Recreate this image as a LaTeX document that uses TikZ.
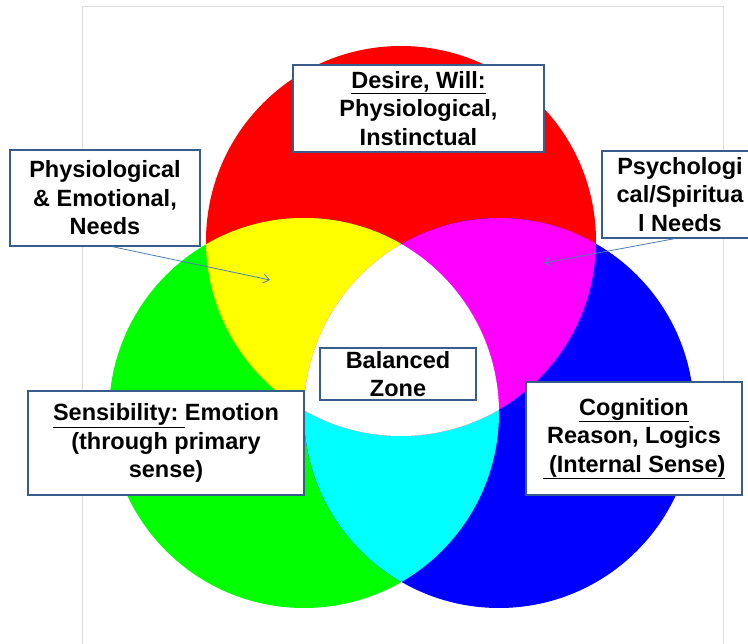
\documentclass[tikz,border=0pt]{standalone}
\usepackage{fontspec}
\setmainfont{Liberation Sans}
\usetikzlibrary{arrows.meta}
\definecolor{boxline}{HTML}{385D8A}
\definecolor{pointerblue}{HTML}{4A7EBB}
\definecolor{framegray}{HTML}{DDDDDD}
\definecolor{lightred}{RGB}{255,0,0}
\definecolor{lightgreen}{RGB}{0,255,0}
\definecolor{lightblue}{RGB}{0,0,255}
\definecolor{lightyellow}{RGB}{255,255,0}
\definecolor{lightmagenta}{RGB}{255,0,255}
\definecolor{lightcyan}{RGB}{0,255,255}
\begin{document}
\begin{tikzpicture}
  [x=1pt,y=-1pt,
   notebox/.style={draw=boxline,line width=1.2pt,fill=white,align=center,inner sep=0pt,
     font=\fontsize{23.5}{28.5}\selectfont\bfseries},
   pointer/.style={draw=pointerblue,line width=0.8pt,-{Straight Barb[length=6pt,width=9pt]}}]
  \useasboundingbox (0,0) rectangle (748,644);
  \draw[framegray,line width=1pt] (82,660) -- (82,7) -- (723,7) -- (723,660);
  \coordinate (r) at (401,241);
  \coordinate (g) at (304,413);
  \coordinate (b) at (499,413);
  \foreach \c/\p in {lightred/r, lightgreen/g, lightblue/b}
    \fill[\c] (\p) circle (195pt);
  \begin{scope}
    \clip (g) circle (195pt);
    \fill[lightcyan] (b) circle (195pt);
  \end{scope}
  \begin{scope}
    \clip (r) circle (195pt);
    \fill[lightyellow] (g) circle (195pt);
    \fill[lightmagenta] (b) circle (195pt);
    \clip (g) circle (195pt);
    \fill[white] (b) circle (195pt);
  \end{scope}
  \node[notebox,minimum width=251pt,minimum height=87pt] (desire) at (418.5,108.5)
    {\underline{Desire, Will:}\\Physiological,\\Instinctual};
  \node[notebox,minimum width=190pt,minimum height=96pt] (phys) at (105,198)
    {Physiological\\\& Emotional,\\Needs};
  \node[notebox,minimum width=156pt,minimum height=87pt] (psych) at (680,194.5)
    {Psychologi\\cal/Spiritua\\l Needs};
  \node[notebox,minimum width=156pt,minimum height=52pt] (zone) at (398,374)
    {Balanced\\Zone};
  \node[notebox,minimum width=276pt,minimum height=104pt] (sense) at (166,443)
    {\underline{Sensibility:\ }Emotion\\(through primary\\sense)};
  \node[notebox,minimum width=216pt,minimum height=113pt] (cogn) at (634,438.5)
    {\underline{Cognition}\\Reason, Logics\\\underline{\ (Internal Sense)}};
  \coordinate (yel) at (270,280);
  \coordinate (mag) at (544,263);
  \draw[pointer] ([xshift=7pt]phys.south) -- (yel);
  \draw[pointer] ([xshift=-5pt]psych.south) -- (mag);
\end{tikzpicture}
\end{document}
